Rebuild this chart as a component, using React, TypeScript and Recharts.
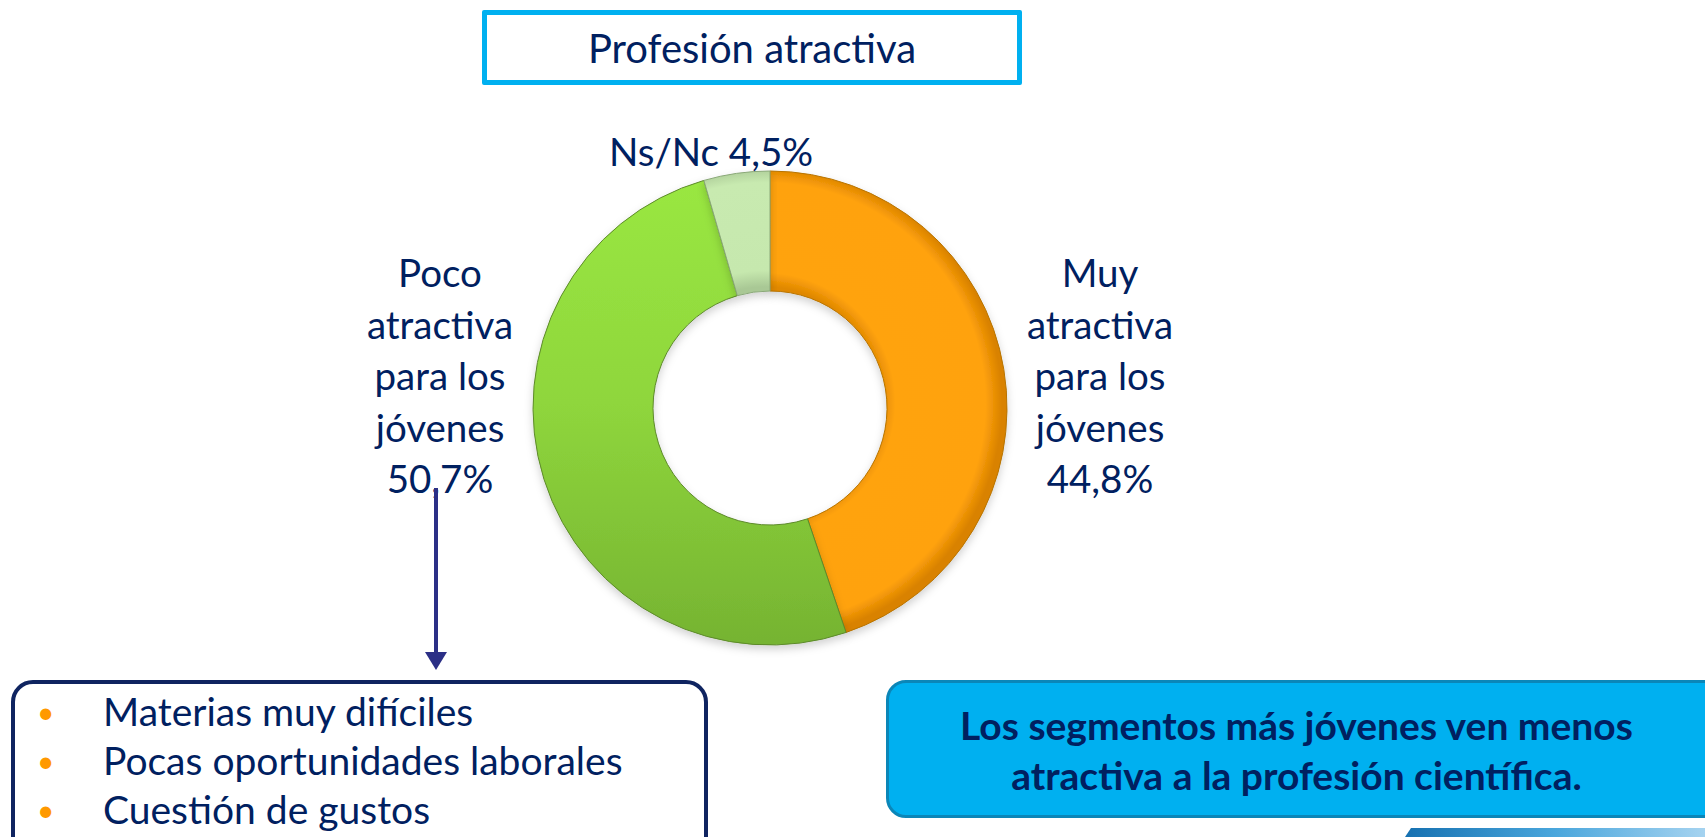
import { PieChart, Pie, Cell } from 'recharts';

const categories = ['Muy\natractiva\npara los\njóvenes', 'Poco\natractiva\npara los\njóvenes', 'Ns/Nc'];
const values = [44.8, 50.7, 4.5];
const sliceFills = ['url(#gOrange)', 'url(#gGreen)', 'url(#gPale)'];
const sliceStrokes = ['#b87400', '#5d8a2a', '#8aa878'];
const reasons = ['Materias muy difíciles', 'Pocas oportunidades laborales', 'Cuestión de gustos'];
const title = 'Profesión atractiva';
const conclusion = ['Los segmentos más jóvenes ven menos', 'atractiva a la profesión científica.'];

const data = categories.map((name, i) => ({ name, value: values[i] }));

const NAVY = '#002060';
const FONT = 'Lato, "Open Sans", sans-serif';
const CX = 765;
const CY = 403;

// label block offsets from the donut centre (layout only)
const labelOffsets = [
  { dx: 330, dy: -27 },
  { dx: -330, dy: -27 },
  { dx: -59, dy: -251 },
];

const fmt = (v: number) => v.toFixed(1).replace('.', ',') + '%';

const renderLabel = (props: any) => {
  const { cx, cy, index, value, name } = props;
  const off = labelOffsets[index];
  const lines: string[] = String(name).split('\n');
  if (lines.length === 1) {
    lines[0] = `${lines[0]} ${fmt(value)}`;
  } else {
    lines.push(fmt(value));
  }
  const lh = 51.5;
  const startY = cy + off.dy - ((lines.length - 1) * lh) / 2 + 9;
  return (
    <text
      key={`lbl-${index}`}
      x={cx + off.dx}
      y={startY}
      textAnchor="middle"
      fill={NAVY}
      style={{ fontFamily: FONT, fontSize: 38.5 }}
    >
      {lines.map((l, i) => (
        <tspan key={i} x={cx + off.dx} dy={i === 0 ? 0 : lh}>
          {l}
        </tspan>
      ))}
    </text>
  );
};

export default function App() {
  return (
    <div style={{ position: 'relative', width: 1705, height: 837, overflow: 'hidden', background: '#fff', fontFamily: FONT }}>
      <style>{`body{margin:0}`}</style>

      {/* title box */}
      <div
        style={{
          position: 'absolute',
          left: 482,
          top: 10,
          width: 540,
          height: 75,
          boxSizing: 'border-box',
          border: '5px solid #00B0F0',
          borderRadius: 2,
          display: 'flex',
          alignItems: 'center',
          justifyContent: 'center',
          color: NAVY,
          fontSize: 40,
        }}
      >
        {title}
      </div>

      <PieChart width={1705} height={837} style={{ position: 'absolute', left: 0, top: 0 }}>
        <defs>
          <radialGradient id="gOrange" gradientUnits="userSpaceOnUse" cx={CX} cy={CY} r={237}>
            <stop offset="0.49" stopColor="#e08800" />
            <stop offset="0.55" stopColor="#ffa30f" />
            <stop offset="0.93" stopColor="#ffa20c" />
            <stop offset="1" stopColor="#d98200" />
          </radialGradient>
          <linearGradient id="gGreen" gradientUnits="userSpaceOnUse" x1={0} y1={CY - 237} x2={0} y2={CY + 237}>
            <stop offset="0" stopColor="#9ae842" />
            <stop offset="0.5" stopColor="#8fd63c" />
            <stop offset="1" stopColor="#76b432" />
          </linearGradient>
          <radialGradient id="gPale" gradientUnits="userSpaceOnUse" cx={CX} cy={CY} r={237}>
            <stop offset="0.49" stopColor="#a9c895" />
            <stop offset="0.56" stopColor="#c6e8ae" />
            <stop offset="0.93" stopColor="#c8eab0" />
            <stop offset="1" stopColor="#a9c895" />
          </radialGradient>
          <filter id="softShadow" x="-10%" y="-10%" width="120%" height="125%">
            <feDropShadow dx="0" dy="4" stdDeviation="4" floodColor="#000" floodOpacity="0.18" />
          </filter>
        </defs>
        <Pie
          data={data}
          dataKey="value"
          nameKey="name"
          cx={CX}
          cy={CY}
          innerRadius={117}
          outerRadius={237}
          startAngle={90}
          endAngle={-270}
          label={renderLabel}
          labelLine={false}
          isAnimationActive={false}
          style={{ filter: 'url(#softShadow)' }}
        >
          {data.map((d, i) => (
            <Cell key={`c-${i}`} fill={sliceFills[i]} stroke={sliceStrokes[i]} strokeWidth={1} />
          ))}
        </Pie>
      </PieChart>

      {/* arrow */}
      <svg width={40} height={190} style={{ position: 'absolute', left: 416, top: 488 }}>
        <line x1={20} y1={0} x2={20} y2={168} stroke="#2b2f86" strokeWidth={4} />
        <polygon points="9,164 31,164 20,182" fill="#2b2f86" />
      </svg>

      {/* reasons box */}
      <div
        style={{
          position: 'absolute',
          left: 11,
          top: 680,
          width: 697,
          height: 180,
          boxSizing: 'border-box',
          border: '4px solid #0f2460',
          borderRadius: 22,
          padding: '3px 0 0 0',
        }}
      >
        {reasons.map((r, i) => (
          <div key={i} style={{ position: 'relative', height: 49, lineHeight: '49px', fontSize: 39, color: NAVY }}>
            <span style={{ position: 'absolute', left: 22, top: 0, color: '#FF9900', fontSize: 30 }}>•</span>
            <span style={{ position: 'absolute', left: 88 }}>{r}</span>
          </div>
        ))}
      </div>

      {/* conclusion box */}
      <div
        style={{
          position: 'absolute',
          left: 886,
          top: 680,
          width: 850,
          height: 138,
          boxSizing: 'border-box',
          background: '#00B0F0',
          border: '3px solid #0b86b8',
          borderRadius: 20,
          display: 'flex',
          flexDirection: 'column',
          justifyContent: 'center',
          color: NAVY,
          fontWeight: 'bold',
          fontSize: 39,
          lineHeight: '50px',
        }}
      >
        {conclusion.map((c, i) => (
          <div key={i} style={{ width: 815, textAlign: 'center', marginTop: i === 0 ? 2 : 0 }}>
            {c}
          </div>
        ))}
      </div>

      {/* corner decoration */}
      <div
        style={{
          position: 'absolute',
          left: 1403,
          top: 828,
          width: 302,
          height: 12,
          background: 'linear-gradient(90deg, #1570b0, #49a6dc 50%, #a5d3f0)',
          clipPath: 'polygon(8px 0, 100% 0, 100% 100%, 0 100%)',
        }}
      />
    </div>
  );
}
